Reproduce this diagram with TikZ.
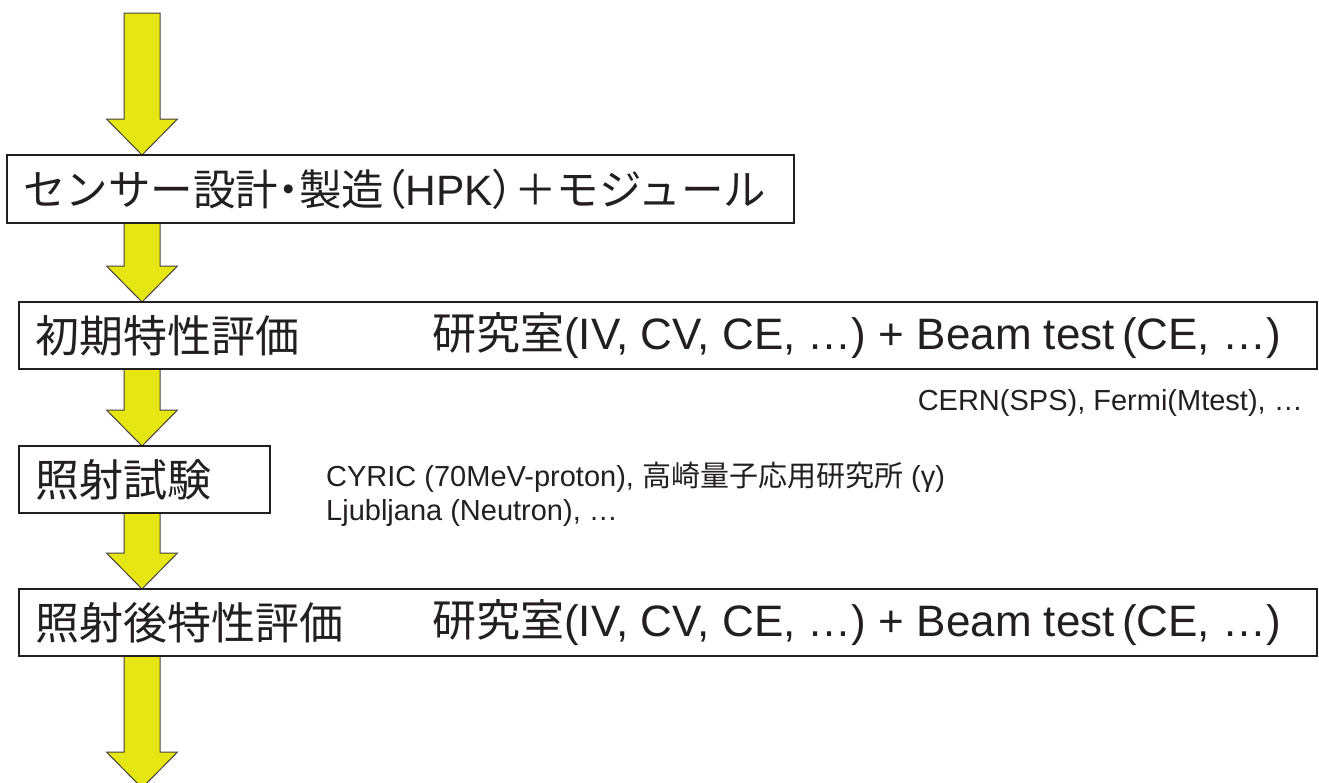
\documentclass[tikz,border=0pt]{standalone}
\usepackage{fontspec}
\setmainfont{Liberation Sans}
\newfontfamily\jp{Noto Sans CJK JP}
\newfontfamily\jpp{Noto Sans CJK JP}[RawFeature=+palt]
\usetikzlibrary{calc}
\definecolor{ayellow}{RGB}{230,230,18}
\definecolor{ink}{RGB}{35,31,32}
\pgfdeclarelayer{bg}
\pgfsetlayers{bg,main}
\begin{document}
\begin{tikzpicture}[x=1pt,y=-1pt,
  box/.style={draw=ink, line width=1.3pt, anchor=north west, inner sep=0pt, outer sep=0pt},
  big/.style={font=\fontsize{44}{50}\selectfont, text=ink, inner sep=0pt},
  small/.style={font=\fontsize{29}{34}\selectfont, text=ink, inner sep=0pt, align=left},
  flow/.style={draw=ink!85, line width=1pt, fill=ayellow, line join=miter,
    to path={let \p1=(\tikztostart), \p2=(\tikztotarget) in
      (\x1-18pt,\y1) -- (\x1+18pt,\y1) -- (\x1+18pt,\y2+36pt) -- (\x1+35.5pt,\y2+36pt)
      -- (\x1,\y2) -- (\x1-35.5pt,\y2+36pt) -- (\x1-18pt,\y2+36pt) -- cycle}}]
\useasboundingbox (0,0) rectangle (1319,782);
\coordinate (s0) at (142,13);
\coordinate (e5) at (142,788);
\node[box, minimum width=787pt, minimum height=68pt] (b1) at (7,155) {};
\node[box, minimum width=1298pt, minimum height=67pt] (b2) at (19,302) {};
\node[box, minimum width=251pt, minimum height=67pt] (b3) at (19,446) {};
\node[box, minimum width=1298pt, minimum height=67pt] (b4) at (19,589) {};
\node[big, font=\fontsize{42.5}{48}\selectfont, anchor=west] (t1) at ($(b1.west)+(16,0)$) {{\jp センサー設計}{\jpp ・}{\jp 製造}{\jpp （}HPK{\jpp ）}{\jp ＋モジュール}};
\node[big, anchor=west] (t2) at ($(b2.west)+(16,0)$) {\jp 初期特性評価};
\node[big, anchor=west] (t2r) at (432,335.5) {{\jp 研究室}(IV, CV, CE, …) + Beam test\,(CE, …)};
\node[big, anchor=west] (t3) at ($(b3.west)+(16,0)$) {\jp 照射試験};
\node[big, anchor=west] (t4) at ($(b4.west)+(16,0)$) {\jp 照射後特性評価};
\node[big, anchor=west] (t4r) at (432,622.5) {{\jp 研究室}(IV, CV, CE, …) + Beam test\,(CE, …)};
\node[small, anchor=east] (n1) at (1303,403) {CERN(SPS), Fermi(Mtest), …};
\node[small, anchor=west] (n2) at (326,494) {CYRIC (70MeV-proton), {\jp 高崎量子応用研究所} (γ)\\Ljubljana (Neutron), …};
\begin{pgfonlayer}{bg}
\draw[flow] (s0) to (b1.north -| s0);
\draw[flow] (b1.south -| s0) to (b2.north -| s0);
\draw[flow] (b2.south -| s0) to (b3.north -| s0);
\draw[flow] (b3.south -| s0) to (b4.north -| s0);
\draw[flow] (b4.south -| s0) to (e5);
\end{pgfonlayer}
\end{tikzpicture}
\end{document}
